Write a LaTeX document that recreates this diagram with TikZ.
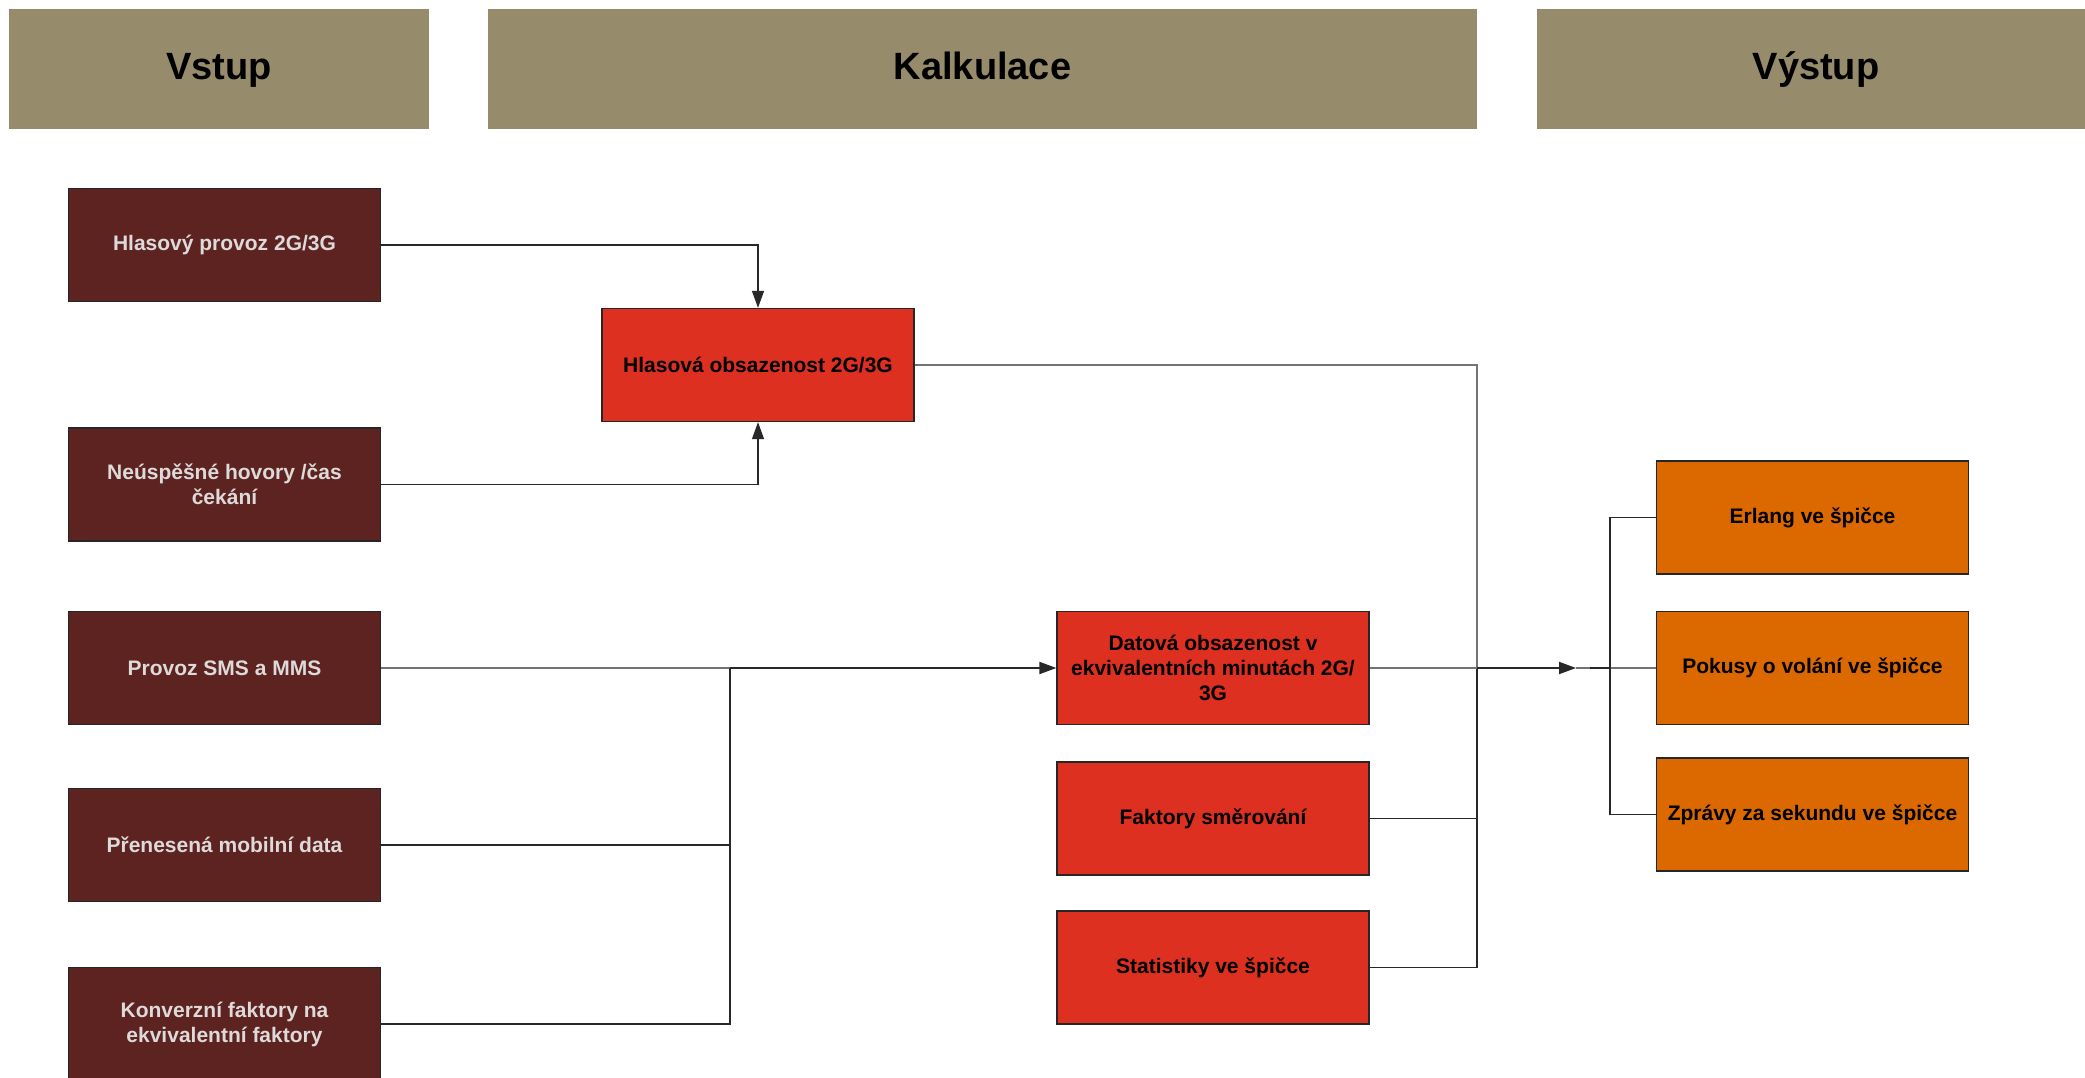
\documentclass[tikz,border=0pt]{standalone}
\usepackage{fontspec}
\setmainfont{Liberation Sans}
\usetikzlibrary{arrows.meta}
\definecolor{hdrfill}{RGB}{150,139,107}
\definecolor{infill}{RGB}{92,35,32}
\definecolor{intext}{RGB}{222,218,218}
\definecolor{calcfill}{RGB}{221,48,32}
\definecolor{outfill}{RGB}{220,104,0}
\definecolor{wire}{RGB}{40,40,40}
\definecolor{greywire}{RGB}{115,115,115}
\begin{document}
\begin{tikzpicture}[x=1pt,y=-1pt,
  header/.style={fill=hdrfill, inner sep=0pt, minimum height=120pt,
    text height=30pt, text depth=8pt,
    font=\fontsize{38}{44}\selectfont\bfseries},
  box/.style={draw=black!85, line width=1.3pt, minimum width=312pt,
    minimum height=113pt, inner sep=2pt, align=center,
    font=\fontsize{21}{25}\selectfont\bfseries},
  inbox/.style={box, fill=infill, text=intext},
  calcnode/.style={box, fill=calcfill},
  outnode/.style={box, fill=outfill},
  link/.style={draw=wire, line width=1.3pt},
  glink/.style={draw=greywire, line width=1.6pt},
  tip/.style={-{Triangle[length=17pt,width=12pt]}},
]
\clip (0,0) rectangle (2085,1078);
\fill[white] (0,0) rectangle (2085,1078);

% column headers
\node[header, minimum width=420pt] (hin)   at (219,69)    {Vstup};
\node[header, minimum width=989pt] (hcalc) at (982.5,69)  {Kalkulace};
\node[header, minimum width=558pt] (hout)  at (1816,69)   {Výstup};

% inputs
\node[inbox] (voice) at (224.5,245)  {Hlasový provoz 2G/3G};
\node[inbox] (fail)  at (224.5,484.5){Neúspěšné hovory /čas\\čekání};
\node[inbox] (sms)   at (224.5,668)  {Provoz SMS a MMS};
\node[inbox] (mdata) at (224.5,845)  {Přenesená mobilní data};
\node[inbox] (conv)  at (224.5,1024) {Konverzní faktory na\\ekvivalentní faktory};

% calculation
\node[calcnode] (vocc)  at (758,365)    {Hlasová obsazenost 2G/3G};
\node[calcnode] (docc)  at (1213,668)   {Datová obsazenost v\\ekvivalentních minutách 2G/\\3G};
\node[calcnode] (route) at (1213,818.5) {Faktory směrování};
\node[calcnode] (stats) at (1213,967.5) {Statistiky ve špičce};

% outputs
\node[outnode] (erl)  at (1812.5,517.5) {Erlang ve špičce};
\node[outnode] (att)  at (1812.5,668)   {Pokusy o volání ve špičce};
\node[outnode] (msgs) at (1812.5,814.5) {Zprávy za sekundu ve špičce};

% junction points
\coordinate (jdata) at (730,668);
\coordinate (jcalc) at (1477,668);
\coordinate (hub)   at (1576,668);
\coordinate (jout)  at (1610,668);

% voice inputs into voice occupancy
\draw[link, tip] (voice.east) -| (vocc.north);
\draw[link, tip] (fail.east) -| (vocc.south);

% data inputs into data occupancy
\draw[glink] (sms.east) -- (jdata);
\draw[link] (mdata.east) -| (jdata);
\draw[link] (conv.east) -| (jdata);
\draw[link, line width=2pt, tip] (jdata) -- (docc.west);

% calculation results collected on the bus
\draw[glink] (vocc.east) -| (jcalc);
\draw[link] (jcalc) |- (stats.east);
\draw[link] (route.east) -- (1477,818.5);
\draw[glink] (docc.east) -- (jcalc);
\draw[link, line width=2pt, tip] (jcalc) -- (hub);

% distribution to outputs
\draw[glink] (hub) -- (att.west);
\draw[link] (jout) ++(-20,0) -- (jout);
\draw[link] (erl.west) -| (jout) |- (msgs.west);
\end{tikzpicture}
\end{document}
